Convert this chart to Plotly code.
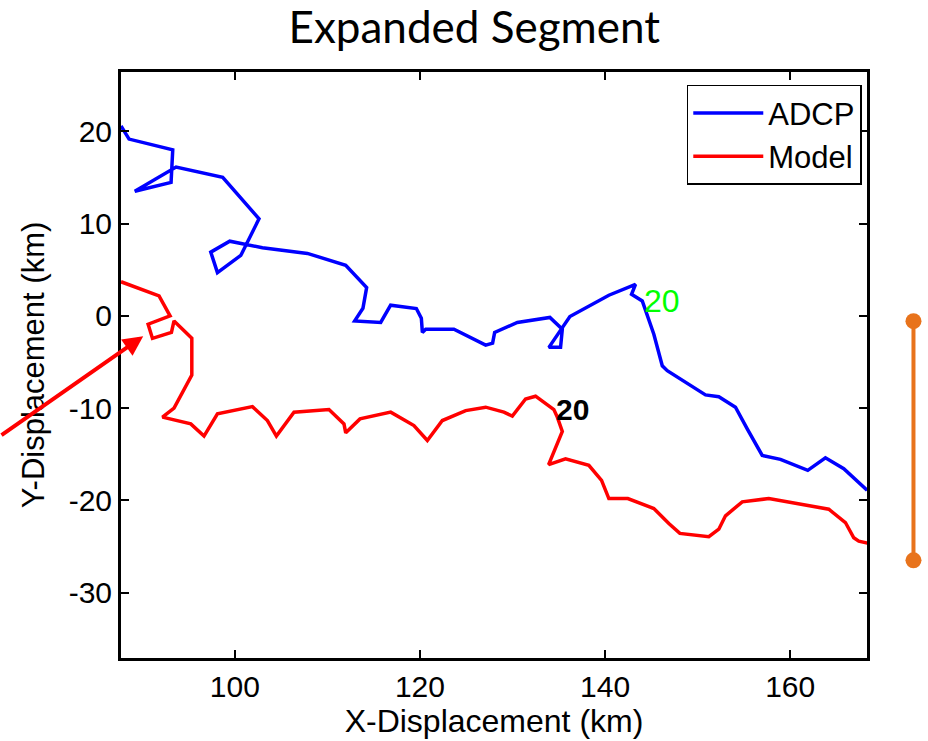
import plotly.graph_objects as go

# ADCP drifter track (km)
adcp_x = [87.7, 88.57, 93.29, 93.11, 89.19, 93.65, 98.69, 102.61, 100.64, 98.12,
          97.40, 99.45, 102.98, 107.84, 111.98, 114.24, 113.84, 112.95, 115.76, 116.83,
          119.61, 120.15, 120.26, 120.62, 123.67, 127.10, 127.85, 128.07, 130.52, 134.04,
          135.38, 135.19, 133.93, 135.38, 136.20, 140.41, 143.29, 142.86, 144.02, 145.27,
          146.18, 146.72, 150.85, 152.29, 154.09, 155.36, 156.98, 158.95, 161.90, 163.81,
          165.79, 168.31]
adcp_y = [20.59, 19.16, 17.99, 14.47, 13.50, 16.13, 15.01, 10.52, 6.55, 4.69,
          6.91, 8.10, 7.39, 6.77, 5.48, 3.07, 0.83, -0.54, -0.71, 1.16,
          0.80, -0.25, -1.79, -1.44, -1.44, -3.16, -2.95, -1.79, -0.71, -0.17,
          -1.44, -3.41, -3.41, -1.36, -0.06, 2.24, 3.42, 2.34, 1.62, -1.98,
          -5.40, -5.94, -8.56, -8.75, -9.89, -12.24, -15.12, -15.55, -16.74, -15.37,
          -16.55, -18.90]

# Model track (km)
model_x = [87.7, 91.81, 93.00, 90.63, 91.10, 93.15, 93.43, 95.35, 95.35, 93.43,
           92.18, 95.24, 96.67, 98.12, 101.90, 103.52, 104.49, 106.39, 110.17, 111.79,
           111.98, 113.52, 116.84, 119.35, 120.80, 122.42, 124.94, 127.10, 129.07, 129.98,
           131.41, 132.49, 134.47, 134.84, 135.38, 133.90, 135.73, 138.25, 139.62, 140.41,
           142.46, 145.27, 146.89, 148.08, 151.21, 152.29, 153.01, 154.82, 157.69, 160.76,
           164.17, 165.97, 166.87, 167.41, 168.49]
model_y = [3.70, 2.16, 0.00, -0.90, -2.44, -1.79, -0.54, -2.41, -6.40, -10.00,
           -10.97, -11.70, -13.02, -10.62, -9.83, -11.34, -13.02, -10.43, -10.15, -11.70,
           -12.67, -11.16, -10.43, -11.88, -13.50, -11.34, -10.26, -9.89, -10.43, -10.86,
           -9.00, -8.70, -10.15, -10.97, -12.53, -16.12, -15.48, -16.20, -17.82, -19.79,
           -19.79, -20.87, -22.49, -23.57, -23.93, -23.11, -21.66, -20.15, -19.79, -20.33,
           -20.95, -22.39, -24.04, -24.41, -24.65]

# Hour-20 markers on each track
adcp_mark = (144.02, 1.62)
model_mark = (134.47, -10.15)

x_ticks = [100, 120, 140, 160]
x_labels = ["100", "120", "140", "160"]
y_ticks = [-30, -20, -10, 0, 10, 20]
y_labels = ["-30", "-20", "-10", "0", "10", "20"]

AX_FONT = "Liberation Sans, Arial, sans-serif"

fig = go.Figure()
fig.add_trace(go.Scatter(x=adcp_x, y=adcp_y, mode="lines", name="ADCP",
                         line=dict(color="#0000FF", width=3.5)))
fig.add_trace(go.Scatter(x=model_x, y=model_y, mode="lines", name="Model",
                         line=dict(color="#FF0000", width=3.5)))

# hour labels
fig.add_annotation(x=adcp_mark[0], y=adcp_mark[1], text="20", showarrow=False,
                   xanchor="left", yanchor="middle",
                   font=dict(family=AX_FONT, size=32, color="#00FF00"))
fig.add_annotation(x=model_mark[0], y=model_mark[1], text="<b>20</b>", showarrow=False,
                   xanchor="left", yanchor="middle",
                   font=dict(family=AX_FONT, size=30, color="#000000"))

# red pointer toward the loop near the start of the model track
fig.add_annotation(x=90.1, y=-2.2, ax=-150, ay=100, text="", showarrow=True,
                   arrowhead=2, arrowsize=1.0, arrowwidth=4, arrowcolor="#FF0000")

# orange scale bar to the right of the axes
bar_x = 1.0623
fig.add_shape(type="line", xref="paper", yref="paper", x0=bar_x, x1=bar_x,
              y0=0.1667, y1=0.5748, line=dict(color="#E8731C", width=4))
for yy in (0.1667, 0.5748):
    fig.add_shape(type="circle", xref="paper", yref="paper",
                  xsizemode="pixel", ysizemode="pixel",
                  xanchor=bar_x, yanchor=yy, x0=-8, x1=8, y0=-8, y1=8,
                  fillcolor="#E8731C", line=dict(color="#E8731C", width=0))

fig.update_layout(
    width=928, height=741,
    margin=dict(l=121, r=61, t=72, b=81),
    paper_bgcolor="white", plot_bgcolor="white",
    title=dict(text="Expanded Segment", x=0.4735, xref="paper", xanchor="center",
               y=0.983, yanchor="top",
               font=dict(family="Lato, sans-serif", size=44, color="black")),
    showlegend=True,
    legend=dict(x=0.993, y=0.978, xanchor="right", yanchor="top",
                bgcolor="white", bordercolor="black", borderwidth=1.5,
                font=dict(family=AX_FONT, size=31, color="black"),
                tracegroupgap=0, itemwidth=70),
    font=dict(family=AX_FONT, color="black"),
)
fig.update_xaxes(range=[87.7, 168.3], tickvals=x_ticks, ticktext=x_labels,
                 ticks="inside", ticklen=8,
                 tickwidth=2, tickcolor="black", showline=True, linecolor="black",
                 linewidth=3, mirror="ticks", showgrid=False, zeroline=False,
                 tickfont=dict(family=AX_FONT, size=30),
                 title=dict(text="X-Displacement (km)", font=dict(family=AX_FONT, size=32),
                            standoff=4))
fig.update_yaxes(range=[-37.07, 26.43], tickvals=y_ticks, ticktext=y_labels,
                 ticks="inside", ticklen=8,
                 tickwidth=2, tickcolor="black", showline=True, linecolor="black",
                 linewidth=3, mirror="ticks", showgrid=False, zeroline=False,
                 tickfont=dict(family=AX_FONT, size=30),
                 title=dict(text="Y-Displacement (km)", font=dict(family=AX_FONT, size=31),
                            standoff=15))

fig.write_html("out.html")
